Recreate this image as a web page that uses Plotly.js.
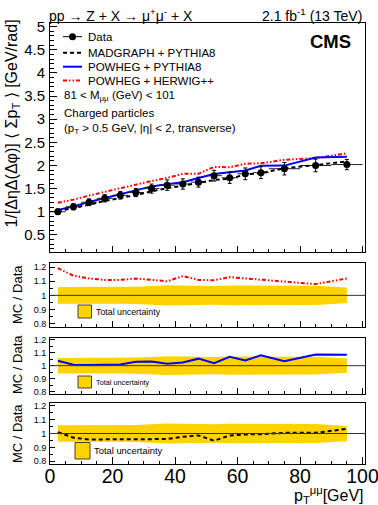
<!DOCTYPE html>
<html><head><meta charset="utf-8">
<script src="https://cdn.plot.ly/plotly-3.0.1.min.js"></script>
<style>html,body{margin:0;padding:0;background:#fff}#chart{width:378px;height:505px}</style>
</head><body><div id="chart"></div>
<script>
// ---- data ----
const ptCenters   = [2.5, 7.5, 12.5, 17.5, 22.5, 27.5, 32.5, 37.5, 42.5, 47.5, 52.5, 57.5, 62.5, 67.5, 75, 85, 95];
const ptHalfWidth = [2.5, 2.5, 2.5, 2.5, 2.5, 2.5, 2.5, 2.5, 2.5, 2.5, 2.5, 2.5, 2.5, 2.5, 5, 5, 5];
const dataValues  = [1.00, 1.107, 1.205, 1.29, 1.355, 1.415, 1.50, 1.575, 1.60, 1.64, 1.78, 1.735, 1.82, 1.845, 1.93, 2.00, 2.02];
const dataErrors  = [0.06, 0.066, 0.072, 0.078, 0.081, 0.088, 0.098, 0.113, 0.112, 0.107, 0.116, 0.121, 0.127, 0.129, 0.135, 0.136, 0.111];
const totalUnc    = [0.06, 0.06, 0.06, 0.06, 0.06, 0.062, 0.066, 0.072, 0.07, 0.066, 0.066, 0.07, 0.07, 0.07, 0.07, 0.068, 0.055];
const ratioHerwig       = [1.193, 1.14, 1.12, 1.11, 1.11, 1.12, 1.11, 1.10, 1.137, 1.11, 1.107, 1.13, 1.12, 1.11, 1.10, 1.08, 1.12];
const ratioPowhegPythia = [1.038, 1.008, 1.005, 1.005, 1.01, 1.03, 1.032, 1.014, 1.024, 1.054, 1.019, 1.068, 1.04, 1.08, 1.035, 1.086, 1.084];
const ratioMadgraph     = [1.01, 0.97, 0.957, 0.957, 0.957, 0.962, 0.96, 0.96, 0.976, 0.986, 0.948, 0.986, 0.993, 0.995, 1.005, 1.005, 1.033];
const seriesNames = ['Data', 'MADGRAPH + PYTHIA8', 'POWHEG + PYTHIA8', 'POWHEG + HERWIG++'];
const xTickStep = 20, xMinorStep = 5;

// ---- geometry helpers ----
const W = 378, H = 505, ML = 50, MR = 13, MT = 23, MB = 41;
const PW = W - ML - MR, PH = H - MT - MB;
const X = px => (px - ML) / PW;
const Y = py => (H - MB - py) / PH;
const FONT = 'Liberation Sans, Arial, Helvetica, sans-serif';

const RED = '#ff0000', BLUE = '#0000ff', BLACK = '#000000', BAND = '#ffd300';
const redDash = '4px,2px,1.5px,2px,1.5px,2px';
const blackDash = '4px,3px';

const mul = (a, b) => a.map((v, i) => v * b[i]);
const traces = [];

// main panel
traces.push({x: ptCenters, y: mul(dataValues, ratioHerwig), xaxis: 'x', yaxis: 'y', mode: 'lines', name: seriesNames[3],
  line: {color: RED, width: 2, dash: redDash}, showlegend: false});
traces.push({x: ptCenters, y: mul(dataValues, ratioPowhegPythia), xaxis: 'x', yaxis: 'y', mode: 'lines', name: seriesNames[2],
  line: {color: BLUE, width: 2}, showlegend: false});
traces.push({x: ptCenters, y: dataValues, xaxis: 'x', yaxis: 'y', mode: 'markers', name: seriesNames[0],
  marker: {color: BLACK, size: 7},
  error_y: {type: 'data', array: dataErrors, color: BLACK, thickness: 1, width: 2},
  error_x: {type: 'data', array: ptHalfWidth, color: '#222', thickness: 1, width: 0},
  showlegend: false});
traces.push({x: ptCenters, y: mul(dataValues, ratioMadgraph), xaxis: 'x', yaxis: 'y', mode: 'lines', name: seriesNames[1],
  line: {color: BLACK, width: 2, dash: blackDash}, showlegend: false});

// ratio panels
const panels = [
  {xa: 'x2', ya: 'y2', ratio: ratioHerwig, color: RED, dash: redDash},
  {xa: 'x3', ya: 'y3', ratio: ratioPowhegPythia, color: BLUE, dash: 'solid'},
  {xa: 'x4', ya: 'y4', ratio: ratioMadgraph, color: BLACK, dash: blackDash}
];
const bandX = ptCenters.concat(ptCenters.slice().reverse());
const bandY = totalUnc.map(u => 1 + u).concat(totalUnc.map(u => 1 - u).reverse());
panels.forEach(p => {
  traces.push({x: bandX, y: bandY, xaxis: p.xa, yaxis: p.ya, mode: 'lines', fill: 'toself',
    fillcolor: BAND, line: {width: 0, color: BAND}, showlegend: false, hoverinfo: 'skip', name: 'Total uncertainty'});
  traces.push({x: ptCenters, y: p.ratio, xaxis: p.xa, yaxis: p.ya, mode: 'lines',
    line: {color: p.color, width: 2, dash: p.dash}, showlegend: false});
});

// ---- axes ----
function xAxis(anchor, labels) {
  return {anchor: anchor, matches: labels ? undefined : 'x4', range: [0, 100.8], tickmode: 'linear', tick0: 0, dtick: xTickStep,
    ticks: 'inside', ticklen: labels ? 7 : 6, tickwidth: 1, tickcolor: BLACK,
    minor: {tickmode: 'linear', tick0: 0, dtick: xMinorStep, ticks: 'inside', ticklen: 3.5, tickcolor: BLACK},
    showline: true, mirror: true, linecolor: BLACK, linewidth: 1, showgrid: false, zeroline: false,
    showticklabels: labels, ticklabelstandoff: labels ? -5 : 0, ticklabeloverflow: 'allow',
    tickfont: {size: 19.5, family: FONT, color: BLACK}, fixedrange: true};
}
function yAxis(anchor, dom, range, main) {
  return {anchor: anchor, domain: dom, range: range, tickmode: 'linear', tick0: 0, dtick: main ? 0.5 : 0.1,
    ticks: 'inside', ticklen: main ? 7 : 5, tickwidth: 1, tickcolor: BLACK,
    minor: {tickmode: 'linear', tick0: 0, dtick: main ? 0.1 : 0.05, ticks: 'inside', ticklen: main ? 3.5 : 3, tickcolor: BLACK},
    showline: true, mirror: true, linecolor: BLACK, linewidth: 1, showgrid: false, zeroline: false,
    tickfont: {size: main ? 15 : 9, family: FONT, color: BLACK}, ticklabelstandoff: 1, fixedrange: true};
}

const layout = {
  width: W, height: H, margin: {l: ML, r: MR, t: MT, b: MB},
  paper_bgcolor: '#fff', plot_bgcolor: '#fff', showlegend: false,
  font: {family: FONT, color: BLACK},
  xaxis: xAxis('y', false),
  xaxis2: xAxis('y2', false),
  xaxis3: xAxis('y3', false),
  xaxis4: xAxis('y4', true),
  yaxis: yAxis('x', [Y(252), 1], [0.13, 5.08], true),
  yaxis2: yAxis('x2', [Y(327), Y(263)], [0.775, 1.23], false),
  yaxis3: yAxis('x3', [Y(394), Y(338)], [0.782, 1.213], false),
  yaxis4: yAxis('x4', [0, Y(403)], [0.78, 1.22], false),
  shapes: [], annotations: []
};

// unity lines
[['x2', 'y2'], ['x3', 'y3'], ['x4', 'y4']].forEach(([xa, ya]) => {
  layout.shapes.push({type: 'line', xref: xa + ' domain', yref: ya, x0: 0, x1: 1, y0: 1, y1: 1,
    line: {color: '#333', width: 1}, layer: 'above'});
});

const ann = (text, px, py, size, opts) => Object.assign({text: text, xref: 'paper', yref: 'paper', x: X(px), y: Y(py),
  xanchor: 'left', yanchor: 'middle', showarrow: false, font: {size: size, family: FONT, color: BLACK}}, opts || {});

// titles
layout.annotations.push(ann('pp → Z + X → μ<sup>+</sup>μ<sup>-</sup> + X', 47, 15, 14));
layout.annotations.push(ann('2.1 fb<sup>-1</sup> (13 TeV)', 364, 15, 14, {xanchor: 'right'}));
layout.annotations.push(ann('<b>CMS</b>', 353, 42, 18.5, {xanchor: 'right'}));
layout.annotations.push(ann('1/[ΔηΔ(Δφ)] ⟨ Σp<sub>T</sub> ⟩ [GeV/rad]', 12.5, 18, 16, {xanchor: 'center', yanchor: 'top', textangle: -90}));
[263, 333, 402].forEach(t => layout.annotations.push(ann('MC / Data', 17.5, t, 13, {xanchor: 'center', yanchor: 'top', textangle: -90})));
layout.annotations.push(ann('p<sub>T</sub><sup>μμ</sup>[GeV]', 366, 495, 16, {xanchor: 'right', yanchor: 'middle'}));

// main legend (drawn by hand)
const legY = [36.7, 52.7, 66.7, 80.5];
layout.shapes.push({type: 'line', xref: 'paper', yref: 'paper', x0: X(63), x1: X(82), y0: Y(legY[0]), y1: Y(legY[0]), line: {color: BLACK, width: 1}});
layout.shapes.push({type: 'circle', xref: 'paper', yref: 'paper', x0: X(69), x1: X(76), y0: Y(legY[0] + 3.5), y1: Y(legY[0] - 3.5), fillcolor: BLACK, line: {color: BLACK, width: 0}});
layout.shapes.push({type: 'line', xref: 'paper', yref: 'paper', x0: X(63), x1: X(82), y0: Y(legY[1]), y1: Y(legY[1]), line: {color: BLACK, width: 2, dash: blackDash}});
layout.shapes.push({type: 'line', xref: 'paper', yref: 'paper', x0: X(63), x1: X(82), y0: Y(legY[2]), y1: Y(legY[2]), line: {color: BLUE, width: 2}});
layout.shapes.push({type: 'line', xref: 'paper', yref: 'paper', x0: X(63), x1: X(82), y0: Y(legY[3]), y1: Y(legY[3]), line: {color: RED, width: 2, dash: redDash}});
seriesNames.forEach((n, i) => layout.annotations.push(ann(n, 86, legY[i], 11.5)));
layout.annotations.push(ann('81 < M<sub>μμ</sub> (GeV) < 101', 62, 96.5, 11.5));
layout.annotations.push(ann('Charged particles', 62, 112.5, 11.5));
layout.annotations.push(ann('(p<sub>T</sub> > 0.5 GeV, |η| < 2, transverse)', 62, 129, 11.5));

// ratio legends
const boxes = [
  {x0: 78, x1: 91.5, y0: 305, y1: 318, tx: 93.5, ty: 312.3, fs: 8.8},
  {x0: 78, x1: 91.5, y0: 376, y1: 388, tx: 93.5, ty: 382.7, fs: 7.3},
  {x0: 75, x1: 90, y0: 442.5, y1: 459, tx: 92, ty: 450.7, fs: 9.4}
];
boxes.forEach(b => {
  layout.shapes.push({type: 'rect', xref: 'paper', yref: 'paper', x0: X(b.x0), x1: X(b.x1), y0: Y(b.y1), y1: Y(b.y0),
    fillcolor: BAND, line: {color: '#4a4030', width: 1}, layer: 'above'});
  layout.annotations.push(ann('Total uncertainty', b.tx, b.ty, b.fs));
});

Plotly.newPlot('chart', traces, layout, {staticPlot: true, displayModeBar: false});
</script></body></html>
